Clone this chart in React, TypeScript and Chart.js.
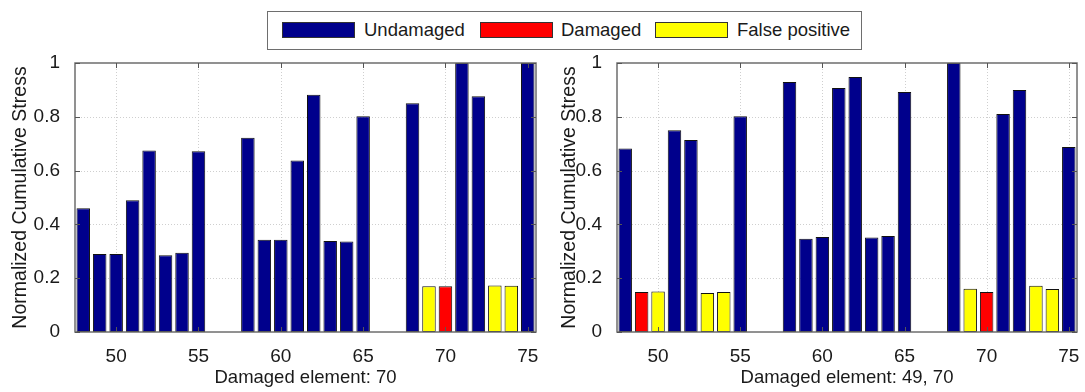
import React, { useEffect, useRef } from 'react';
import { Chart, registerables } from 'chart.js';

Chart.register(...registerables);

// ---- data ----
const elements = [48, 49, 50, 51, 52, 53, 54, 55, 56, 57, 58, 59, 60, 61, 62, 63, 64, 65, 66, 67, 68, 69, 70, 71, 72, 73, 74, 75];

const leftValues = [0.46, 0.29, 0.29, 0.49, 0.675, 0.285, 0.295, 0.672, null, null, 0.722, 0.343, 0.343, 0.638, 0.882, 0.338, 0.336, 0.802, null, null, 0.85, 0.17, 0.17, 1.0, 0.876, 0.173, 0.172, 1.0];
const leftStatus = ['U', 'U', 'U', 'U', 'U', 'U', 'U', 'U', 'U', 'U', 'U', 'U', 'U', 'U', 'U', 'U', 'U', 'U', 'U', 'U', 'U', 'F', 'D', 'U', 'U', 'F', 'F', 'U'];

const rightValues = [0.682, 0.149, 0.151, 0.75, 0.714, 0.145, 0.149, 0.802, null, null, 0.929, 0.347, 0.353, 0.907, 0.948, 0.351, 0.357, 0.892, null, null, 1.0, 0.161, 0.149, 0.81, 0.9, 0.172, 0.16, 0.688];
const rightStatus = ['U', 'D', 'F', 'U', 'U', 'F', 'F', 'U', 'U', 'U', 'U', 'U', 'U', 'U', 'U', 'U', 'U', 'U', 'U', 'U', 'U', 'F', 'D', 'U', 'U', 'F', 'F', 'U'];

const xTickValues = [50, 55, 60, 65, 70, 75];
const yTickValues = [0, 0.2, 0.4, 0.6, 0.8, 1];

const leftTitle = 'Damaged element: 70';
const rightTitle = 'Damaged element: 49, 70';
const yTitle = 'Normalized Cumulative Stress';

const legendLabels = ['Undamaged', 'Damaged', 'False positive'];
const statusColors: Record<string, string> = { U: '#00008c', D: '#ff0000', F: '#ffff00' };

const FONT = '"Liberation Sans", Arial, sans-serif';
const TEXT = '#1a1a1a';

const framePlugin = {
  id: 'matlabFrame',
  beforeDatasetsDraw(chart: any) {
    const { ctx, chartArea: a, scales } = chart;
    const x = scales.x, y = scales.y;
    ctx.save();
    ctx.strokeStyle = '#cfcfcf';
    ctx.lineWidth = 1;
    ctx.setLineDash([1, 2]);
    xTickValues.forEach((v) => {
      const px = Math.round(x.getPixelForValue(elements.indexOf(v))) + 0.5;
      ctx.beginPath();
      ctx.moveTo(px, a.top);
      ctx.lineTo(px, a.bottom);
      ctx.stroke();
    });
    yTickValues.forEach((v) => {
      if (v === 0 || v === 1) return;
      const py = Math.round(y.getPixelForValue(v)) + 0.5;
      ctx.beginPath();
      ctx.moveTo(a.left, py);
      ctx.lineTo(a.right, py);
      ctx.stroke();
    });
    ctx.restore();
  },
  afterDraw(chart: any) {
    const { ctx, chartArea: a, scales } = chart;
    const x = scales.x, y = scales.y;
    ctx.save();
    ctx.strokeStyle = '#6e6e6e';
    ctx.lineWidth = 1.5;
    ctx.setLineDash([]);
    ctx.strokeRect(a.left, a.top, a.right - a.left, a.bottom - a.top);
    const tl = 5;
    ctx.lineWidth = 1;
    ctx.strokeStyle = '#555';
    xTickValues.forEach((v) => {
      const px = Math.round(x.getPixelForValue(elements.indexOf(v))) + 0.5;
      ctx.beginPath();
      ctx.moveTo(px, a.bottom);
      ctx.lineTo(px, a.bottom - tl);
      ctx.moveTo(px, a.top);
      ctx.lineTo(px, a.top + tl);
      ctx.stroke();
    });
    yTickValues.forEach((v) => {
      const py = Math.round(y.getPixelForValue(v)) + 0.5;
      ctx.beginPath();
      ctx.moveTo(a.left, py);
      ctx.lineTo(a.left + tl, py);
      ctx.moveTo(a.right, py);
      ctx.lineTo(a.right - tl, py);
      ctx.stroke();
    });
    ctx.restore();
  },
};

type PanelProps = {
  values: (number | null)[];
  status: string[];
  title: string;
  left: number;
  width: number;
  areaLeft: number;
  areaRight: number;
  yTitlePad: number;
};

function Panel({ values, status, title, left, width, areaLeft, areaRight, yTitlePad }: PanelProps) {
  const ref = useRef<HTMLCanvasElement>(null);
  useEffect(() => {
    if (!ref.current) return;
    const height = 392;
    const areaTop = 63;
    const areaBottom = 332;
    const chart = new Chart(ref.current, {
      type: 'bar',
      data: {
        labels: elements.map(String),
        datasets: [
          {
            label: 'Normalized Cumulative Stress',
            data: values,
            backgroundColor: status.map((s) => statusColors[s]),
            borderColor: '#111',
            borderWidth: 1,
            borderSkipped: false,
            barPercentage: 0.82,
            categoryPercentage: 1,
          },
        ],
      },
      options: {
        animation: false,
        responsive: false,
        maintainAspectRatio: false,
        layout: { padding: { left: 0, right: width - areaRight, top: areaTop, bottom: 0 } },
        plugins: { legend: { display: false }, tooltip: { enabled: false } },
        scales: {
          x: {
            type: 'category',
            offset: true,
            grid: { display: false },
            border: { display: false },
            afterFit: (s: any) => { s.height = height - areaBottom; },
            ticks: {
              autoSkip: false,
              maxRotation: 0,
              minRotation: 0,
              padding: 5,
              color: TEXT,
              font: { family: FONT, size: 19 },
              callback: (_v: any, i: number) => (xTickValues.includes(elements[i]) ? String(elements[i]) : ''),
            },
            title: {
              display: true,
              text: title,
              color: TEXT,
              font: { family: FONT, size: 18.5 },
              padding: { top: 0, bottom: 3 },
            },
          },
          y: {
            min: 0,
            max: 1,
            grid: { display: false },
            border: { display: false },
            afterFit: (s: any) => { s.width = areaLeft; },
            ticks: {
              stepSize: 0.2,
              padding: 7,
              color: TEXT,
              font: { family: FONT, size: 19 },
              callback: (v: any) => String(Number(Number(v).toFixed(1))),
            },
            title: {
              display: true,
              text: yTitle,
              color: TEXT,
              font: { family: FONT, size: 19.5 },
              padding: { top: yTitlePad, bottom: 0 },
            },
          },
        },
      },
      plugins: [framePlugin],
    });
    return () => chart.destroy();
  }, []);
  return (
    <canvas
      ref={ref}
      width={width}
      height={392}
      style={{ position: 'absolute', left, top: 0, width, height: 392 }}
    />
  );
}

function Legend() {
  const items = [
    { label: legendLabels[0], color: statusColors.U, sx: 14, tx: 96 },
    { label: legendLabels[1], color: statusColors.D, sx: 212, tx: 293 },
    { label: legendLabels[2], color: statusColors.F, sx: 387, tx: 469 },
  ];
  return (
    <div
      style={{
        position: 'absolute',
        left: 267,
        top: 11,
        width: 595,
        height: 39,
        boxSizing: 'border-box',
        border: '1.5px solid #6e6e6e',
        background: '#fff',
        fontFamily: FONT,
        fontSize: 18.5,
        color: TEXT,
      }}
    >
      {items.map((it) => (
        <React.Fragment key={it.label}>
          <div
            style={{
              position: 'absolute',
              left: it.sx,
              top: 10,
              width: 73,
              height: 16,
              boxSizing: 'border-box',
              border: '1px solid #333',
              background: it.color,
            }}
          />
          <div
            style={{
              position: 'absolute',
              left: it.tx,
              top: 7,
              lineHeight: '22px',
              whiteSpace: 'nowrap',
            }}
          >
            {it.label}
          </div>
        </React.Fragment>
      ))}
    </div>
  );
}

export default function App() {
  return (
    <div style={{ position: 'fixed', left: 0, top: 0, width: 1085, height: 392, background: '#fff' }}>
      <Panel values={leftValues} status={leftStatus} title={leftTitle} left={0} width={545} areaLeft={75} areaRight={536} yTitlePad={8.6} />
      <Panel values={rightValues} status={rightStatus} title={rightTitle} left={545} width={540} areaLeft={72} areaRight={532} yTitlePad={12.6} />
      <Legend />
    </div>
  );
}
